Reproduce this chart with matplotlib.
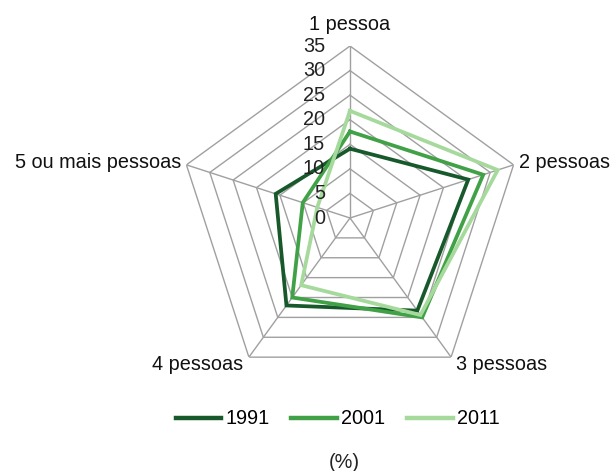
import numpy as np
import matplotlib
matplotlib.use("Agg")
import matplotlib.pyplot as plt

plt.rcParams['font.family'] = ['Liberation Sans', 'DejaVu Sans']

categories = ["1 pessoa", "2 pessoas", "3 pessoas", "4 pessoas", "5 ou mais pessoas"]
series_names = ["1991", "2001", "2011"]
values_1991 = [14.1, 25.3, 23.3, 22.0, 15.9]
values_2001 = [17.6, 28.5, 25.0, 20.0, 10.1]
values_2011 = [21.8, 31.6, 24.4, 16.9, 7.0]
tick_values = [0, 5, 10, 15, 20, 25, 30, 35]
unit_label = "(%)"

colors = ["#17592a", "#41a146", "#a5da9c"]
grid_color = "#a0a0a0"
FS = 14.3

W, H = 612, 471
fig = plt.figure(figsize=(W / 100, H / 100), dpi=100)
cx, cy, R = 350, 218, 172
ax = fig.add_axes([(cx - R) / W, (H - cy - R) / H, 2 * R / W, 2 * R / H],
                  projection='polar')
ax.set_theta_offset(np.pi / 2)
ax.set_theta_direction(-1)
ax.set_ylim(0, tick_values[-1])
ax.grid(False)
ax.set_xticks([])
ax.set_yticks([])
ax.spines['polar'].set_visible(False)
ax.patch.set_alpha(0)

n = len(categories)
theta = np.arange(n) * 2 * np.pi / n
theta_closed = np.append(theta, theta[0])

# pentagon grid
for r in tick_values[1:]:
    ax.plot(theta_closed, [r] * (n + 1), color=grid_color, lw=1.0, zorder=1)
for t in theta:
    ax.plot([t, t], [0, tick_values[-1]], color=grid_color, lw=1.0, zorder=1)

# data
for name, vals, c in zip(series_names, [values_1991, values_2001, values_2011], colors):
    v = list(vals) + [vals[0]]
    ax.plot(theta_closed, v, color=c, lw=2.7, label=name, zorder=3,
            solid_joinstyle='miter')

# radial tick labels
for v in tick_values:
    ax.annotate(str(v), xy=(0, v), xytext=(-25, 0), textcoords='offset pixels',
                ha='right', va='center', fontsize=FS, color='#222222', zorder=5,
                annotation_clip=False)

# category labels
offsets = [(0, 12, 'center', 'bottom'),
           (5, 2, 'left', 'center'),
           (5, -7, 'left', 'center'),
           (-6, -7, 'right', 'center'),
           (-5, 2, 'right', 'center')]
for t, lab, (dx, dy, ha, va) in zip(theta, categories, offsets):
    ax.annotate(lab, xy=(t, tick_values[-1]), xytext=(dx, dy), textcoords='offset pixels',
                ha=ha, va=va, fontsize=FS, color='#111111', annotation_clip=False)

leg = fig.legend(loc='center', bbox_to_anchor=(337.5 / W, 1 - 419 / H), ncol=3,
                 frameon=False, fontsize=FS, handlelength=2.3, handletextpad=0.2,
                 columnspacing=1.1, borderaxespad=0)
for line in leg.get_lines():
    line.set_linewidth(3.2)

fig.text(344 / W, 1 - 462 / H, unit_label, ha='center', va='center', fontsize=FS,
         color='#222222')

fig.savefig("out.png", dpi=100)
